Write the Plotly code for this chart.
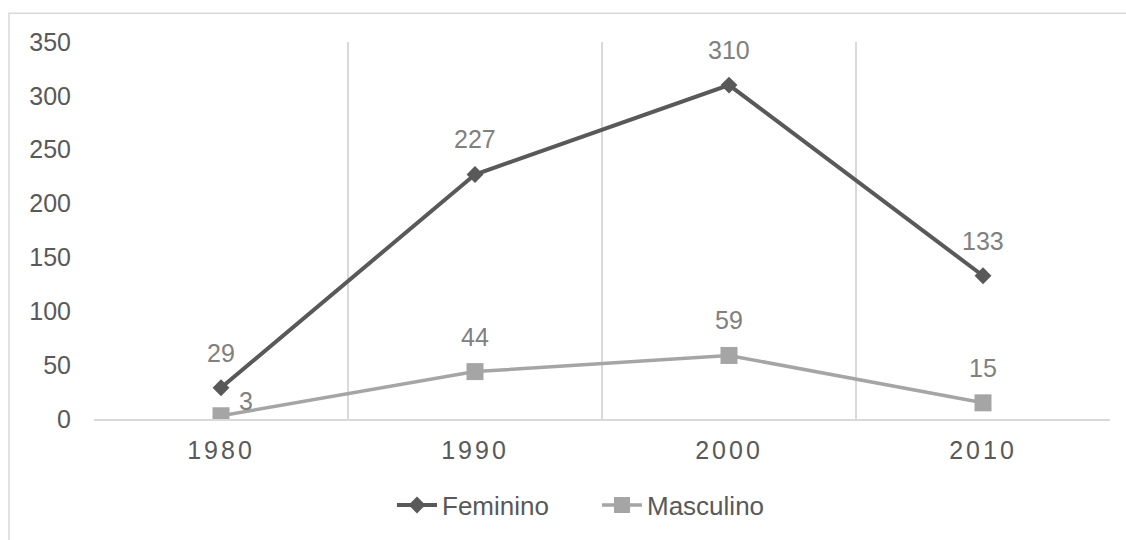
import plotly.graph_objects as go

years = ["1980", "1990", "2000", "2010"]
feminino = [29, 227, 310, 133]
masculino = [3, 44, 59, 15]
y_ticks = [0, 50, 100, 150, 200, 250, 300, 350]

FONT = "Liberation Sans, Arial, sans-serif"
DARK = "#595959"
LIGHT = "#A5A5A5"
LABEL = "#808080"
GRID = "#D9D9D9"

W, H = 1126, 540
ML, MR, MT, MB = 94, 16, 42, 117
PW, PH = W - ML - MR, H - MT - MB

fig = go.Figure()
fig.add_trace(go.Scatter(
    x=years, y=feminino, name="Feminino", mode="lines+markers",
    line=dict(color=DARK, width=4),
    marker=dict(symbol="diamond", size=13, color=DARK),
))
fig.add_trace(go.Scatter(
    x=years, y=masculino, name="Masculino", mode="lines+markers",
    line=dict(color=LIGHT, width=3.5),
    marker=dict(symbol="square", size=17, color=LIGHT),
))

# value labels above each point (x given as category index)
for i, v in enumerate(feminino):
    fig.add_annotation(x=i, y=v, text=str(v), showarrow=False, yshift=35,
                       font=dict(family=FONT, size=25, color=LABEL))
for i, v in enumerate(masculino):
    dx, dy = (25, 15) if i == 0 else (0, 35)
    fig.add_annotation(x=i, y=v, text=str(v), showarrow=False,
                       xshift=dx, yshift=dy,
                       font=dict(family=FONT, size=25, color=LABEL))

# chart frame
fig.add_shape(type="rect", xref="paper", yref="paper",
              x0=(9 - ML) / PW, x1=(W + 20 - ML) / PW,
              y0=-(H + 20 - MT - PH) / PH, y1=(PH + MT - 13) / PH,
              line=dict(color=GRID, width=1.5), layer="below")

fig.update_layout(
    width=W, height=H,
    margin=dict(l=ML, r=MR, t=MT, b=MB),
    paper_bgcolor="white", plot_bgcolor="white",
    font=dict(family=FONT, size=25, color=DARK),
    showlegend=True,
    legend=dict(orientation="h", x=(392 - ML) / PW, xanchor="left",
                y=-(510 - MT - PH) / PH, yanchor="middle",
                font=dict(family=FONT, size=26, color=DARK),
                itemwidth=40, entrywidth=150, entrywidthmode="pixels"),
    xaxis=dict(
        type="category", range=[-0.5, 3.5],
        tickson="boundaries", ticks="",
        tickvals=years,
        ticktext=[f'<span style="letter-spacing:3px">{y}</span>' for y in years],
        showgrid=True, gridcolor=GRID, gridwidth=1.5,
        showline=True, linecolor=GRID, linewidth=1.5,
        zeroline=False, fixedrange=True,
        tickfont=dict(family=FONT, size=25, color=DARK),
        ticklabelstandoff=8,
    ),
    yaxis=dict(
        range=[0, 350], tickvals=y_ticks,
        showgrid=False, zeroline=False, showline=False, ticks="",
        tickfont=dict(family=FONT, size=25, color=DARK),
        ticklabelstandoff=22,
    ),
)

fig.write_html("out.html")
